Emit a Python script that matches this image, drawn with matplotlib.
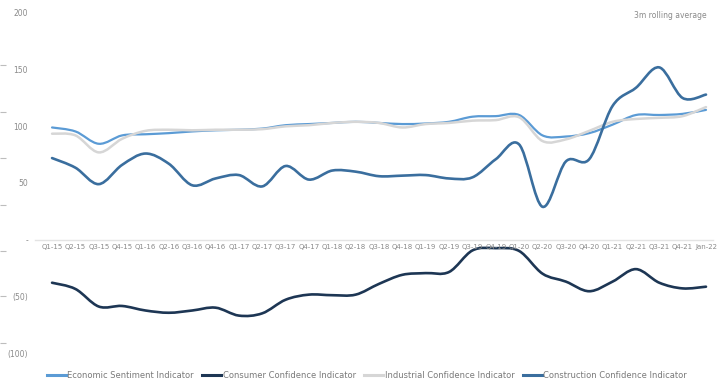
import numpy as np
import matplotlib
matplotlib.use("Agg")
import matplotlib.pyplot as plt
from matplotlib.path import Path
from matplotlib.patches import PathPatch
from matplotlib.lines import Line2D

quarters = [
    "Q1-15", "Q2-15", "Q3-15", "Q4-15", "Q1-16", "Q2-16", "Q3-16", "Q4-16",
    "Q1-17", "Q2-17", "Q3-17", "Q4-17", "Q1-18", "Q2-18", "Q3-18", "Q4-18",
    "Q1-19", "Q2-19", "Q3-19", "Q4-19", "Q1-20", "Q2-20", "Q3-20", "Q4-20",
    "Q1-21", "Q2-21", "Q3-21", "Q4-21", "Jan-22",
]

economic = [99, 95.5, 84.6, 92, 93, 94, 95.5, 96.5, 97, 98, 101, 102, 103, 104,
            103, 102, 102.5, 104, 108.5, 109, 110, 92, 91, 94, 101.5, 110, 110,
            111, 114.5]
consumer = [-38, -43.5, -59, -58.5, -62.5, -64.5, -62.5, -60, -67, -65, -53,
            -48.5, -49, -48.5, -39, -31, -29.5, -28.5, -9.5, -7.5, -10, -30, -37,
            -45.5, -37, -26, -38, -43, -41.5]
industrial = [93.5, 92, 77, 89, 96, 97, 96.5, 97, 97, 97.5, 100, 101, 103, 104,
              103, 99, 102, 103, 105, 105.5, 108, 87, 88.5, 96, 104, 106.5, 107.5,
              109, 117]
construction = [72, 63.5, 49, 66, 76, 67, 48, 54, 57, 47, 65, 53, 61, 60, 56,
                56.5, 57, 54, 55, 71, 84, 29, 69, 71, 118, 134, 152, 125, 128]

series = [
    ("Economic Sentiment Indicator", economic, "#5b9bd5", 1.6),
    ("Consumer Confidence Indicator", consumer, "#1d3654", 1.9),
    ("Industrial Confidence Indicator", industrial, "#d6d6d6", 1.8),
    ("Construction Confidence Indicator", construction, "#3a6e9e", 1.9),
]

y_ticks = [200, 150, 100, 50, 0, -50, -100]
y_labels = ["200", "150", "100", "50", "-", "(50)", "(100)"]


def smooth_path(xs, ys):
    # catmull-rom through the points, drawn as cubic bezier
    pts = np.column_stack([xs, ys]).astype(float)
    ext = np.vstack([pts[0], pts, pts[-1]])
    verts = [pts[0]]
    codes = [Path.MOVETO]
    for i in range(1, len(ext) - 2):
        p0, p1, p2, p3 = ext[i - 1], ext[i], ext[i + 1], ext[i + 2]
        verts += [p1 + (p2 - p0) / 6, p2 - (p3 - p1) / 6, p2]
        codes += [Path.CURVE4] * 3
    return Path(verts, codes)


def main():
    fig = plt.figure(figsize=(7.25, 3.83), dpi=100)
    ax = fig.add_axes([35 / 725, 30 / 383, 678 / 725, 340 / 383])
    x = np.arange(len(quarters))

    handles = []
    for name, vals, color, lw in series:
        patch = PathPatch(smooth_path(x, vals), fill=False, edgecolor=color,
                          lw=lw, capstyle="round", joinstyle="round")
        ax.add_patch(patch)
        handles.append(Line2D([], [], color=color, lw=2.2, label=name))

    ax.set_xlim(-0.73, 28.3)
    ax.set_ylim(-100, 200)

    for side in ["top", "right", "left"]:
        ax.spines[side].set_visible(False)
    ax.spines["bottom"].set_position(("data", 0))
    ax.spines["bottom"].set_color("#e3e3e3")
    ax.spines["bottom"].set_linewidth(1.0)

    ax.set_xticks(x)
    ax.set_xticklabels(quarters)
    ax.tick_params(axis="x", length=0, pad=3, labelsize=5.0, labelcolor="#8a8a8a")
    ax.set_yticks(y_ticks)
    ax.set_yticklabels(y_labels)
    ax.tick_params(axis="y", length=0, pad=5, labelsize=5.5, labelcolor="#8a8a8a")

    # faint ticks of a second scale at the far left edge
    sec = ax.secondary_yaxis(-0.043)
    sec.spines["left"].set_visible(False)
    sec.set_yticks([154, 113, 72, 31, -10, -50, -91])
    sec.set_yticklabels([])
    sec.tick_params(axis="y", length=4, width=0.8, color="#bdbdbd")

    fig.text(707 / 725, 1 - 15 / 383, "3m rolling average", ha="right",
             va="center", fontsize=5.5, color="#8a8a8a")

    fig.legend(handles=handles, loc="center", ncol=4,
               bbox_to_anchor=(0.506, 1 - 375 / 383), frameon=False,
               fontsize=6, labelcolor="#7a7a7a", handlelength=2.3,
               handletextpad=0.15, columnspacing=1.0)

    fig.savefig("out.png", dpi=100)


if __name__ == "__main__":
    main()
